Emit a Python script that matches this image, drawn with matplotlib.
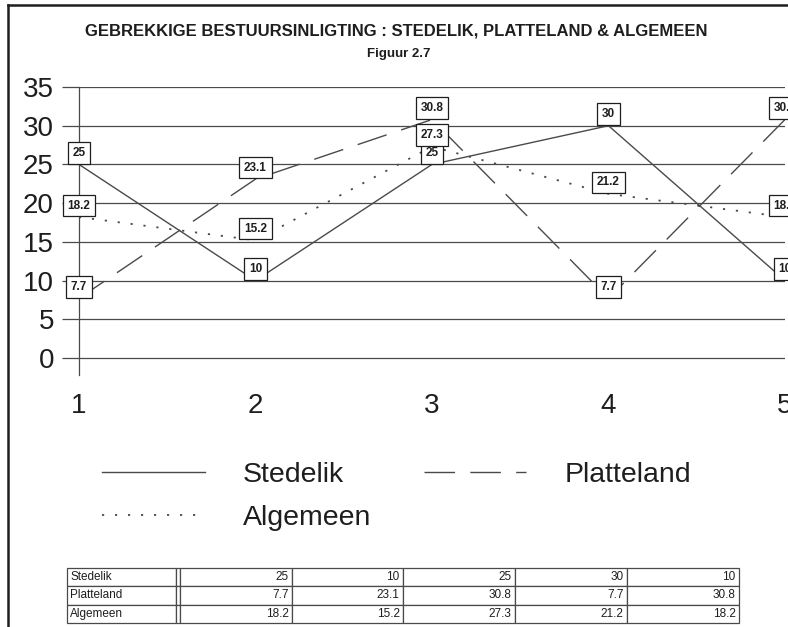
import matplotlib
matplotlib.use("Agg")
import matplotlib.pyplot as plt
from matplotlib.lines import Line2D

plt.rcParams['font.family'] = ['Liberation Sans', 'DejaVu Sans']

# Data
punte = [1, 2, 3, 4, 5]
stedelik = [25, 10, 25, 30, 10]
platteland = [7.7, 23.1, 30.8, 7.7, 30.8]
algemeen = [18.2, 15.2, 27.3, 21.2, 18.2]
reeks_name = ["Stedelik", "Platteland", "Algemeen"]
y_ticks = [0, 5, 10, 15, 20, 25, 30, 35]

W, H = 788, 627
fig = plt.figure(figsize=(W / 100, H / 100), dpi=100)

ink = "#1e1e1e"
lyn = "#4a4a4a"

# plot area (pixel positions converted to fractions)
ax = fig.add_axes([79 / W, (H - 375) / H, (785 - 79) / W, (375 - 87) / H])
ax.set_xlim(1, 5)
ax.set_ylim(-2.2, 35)

l1, = ax.plot(punte, stedelik, color=lyn, lw=1.0, label=reeks_name[0])
l2, = ax.plot(punte, platteland, color=lyn, lw=1.0, dashes=(22, 11), label=reeks_name[1])
l3, = ax.plot(punte, algemeen, color=lyn, lw=1.3, dashes=(1.2, 6), label=reeks_name[2])

for reeks in (stedelik, platteland, algemeen):
    for x, y in zip(punte, reeks):
        ax.annotate(f"{y:g}", (x, y), xytext=(0, 4), textcoords="offset points",
                    ha="center", va="bottom", fontsize=8.5, fontweight="bold", color=ink,
                    bbox=dict(boxstyle="square,pad=0.4", fc="white", ec=ink, lw=0.9),
                    annotation_clip=False, zorder=5)

ax.set_yticks(y_ticks)
ax.set_xticks(punte)
ax.grid(axis="y", color=lyn, lw=0.9)
ax.tick_params(axis="y", length=12, width=0.9, color=lyn, labelsize=20, pad=6, labelcolor=ink)
ax.tick_params(axis="x", length=0, labelsize=20, pad=13, labelcolor=ink)
for s in ("top", "right", "bottom"):
    ax.spines[s].set_visible(False)
ax.spines["left"].set_color(lyn)
ax.spines["left"].set_linewidth(0.9)

# titles
fig.text(396 / W, 1 - 31 / H, "GEBREKKIGE BESTUURSINLIGTING : STEDELIK, PLATTELAND & ALGEMEEN",
         ha="center", va="center", fontsize=12, fontweight="bold", color=ink)
fig.text(399 / W, 1 - 54 / H, "Figuur 2.7", ha="center", va="center",
         fontsize=9.5, fontweight="bold", color=ink)

# legend
leg = fig.legend([l1, l3, l2], [reeks_name[0], reeks_name[2], reeks_name[1]],
                 ncol=2, loc="upper left", bbox_to_anchor=(102 / W, 1 - 462 / H),
                 frameon=False, fontsize=20.5, handlelength=3.6, handletextpad=1.34,
                 columnspacing=1.85, labelspacing=0.6, borderpad=0, borderaxespad=0)
for t in leg.get_texts():
    t.set_color(ink)

# data table
tab_ax = fig.add_axes([67 / W, (H - 623) / H, (739 - 67) / W, (623 - 568) / H])
tab_ax.axis("off")
rye = []
for naam, reeks in zip(reeks_name, (stedelik, platteland, algemeen)):
    rye.append([naam, ""] + [f"{v:g}" for v in reeks])
breedtes = [109, 4, 112, 111, 112, 112, 112]
tab = tab_ax.table(cellText=rye, colWidths=[b / sum(breedtes) for b in breedtes],
                   bbox=[0, 0, 1, 1], cellLoc="right")
tab.auto_set_font_size(False)
for (r, c), cel in tab.get_celld().items():
    cel.set_edgecolor(lyn)
    cel.set_linewidth(0.9)
    cel.get_text().set_fontsize(8.5)
    cel.get_text().set_color(ink)
    cel.PAD = 0.03
    if c == 0:
        cel.get_text().set_ha("left")
        cel._loc = "left"

# outer frame
fig.add_artist(Line2D([8 / W, 8 / W], [0, 1 - 5 / H], color=ink, lw=1.8))
fig.add_artist(Line2D([8 / W, 1], [1 - 5 / H, 1 - 5 / H], color=ink, lw=1.8))

fig.savefig("out.png", dpi=100)
